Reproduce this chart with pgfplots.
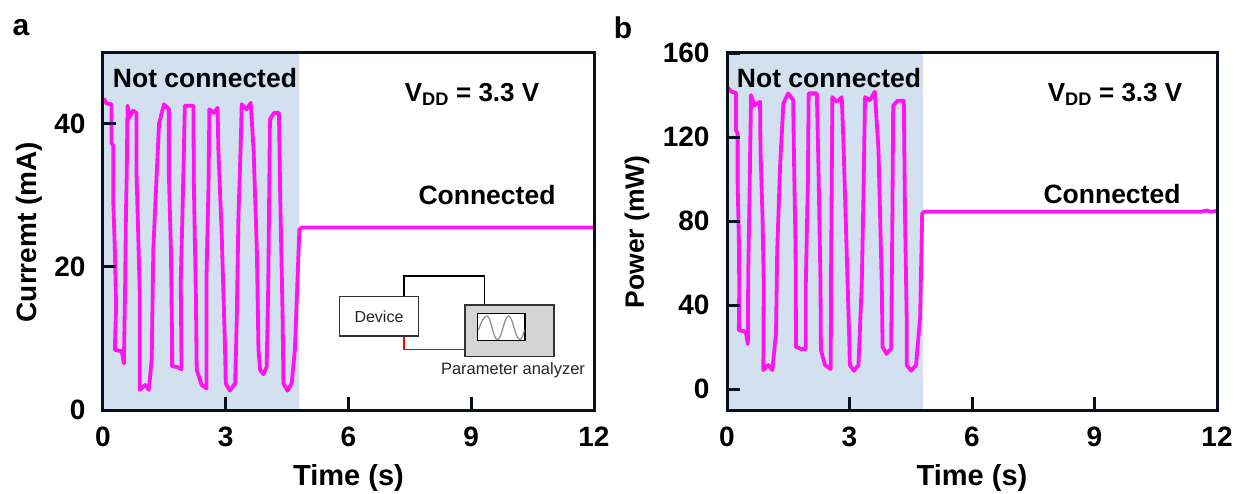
\documentclass[border=0pt]{standalone}
\usepackage{pgfplots}
\pgfplotsset{compat=1.18}
\usepackage{fontspec}
\setmainfont{Liberation Sans}
\definecolor{mag}{HTML}{FF14F0}
\definecolor{shade}{HTML}{D3E0F0}
\definecolor{axc}{HTML}{0A0F1E}
\pgfplotsset{
  panel/.style={
    scale only axis, width=491pt, height=358pt,
    xmin=0, xmax=12, xtick={0,3,6,9,12},
    axis on top, axis line style={line width=3pt, color=axc},
    tick style={line width=3pt, color=axc},
    major tick length=13pt, tick align=inside,
    xtick pos=bottom, ytick pos=left,
    /pgf/number format/assume math mode=true,
    ticklabel style={font=\fontsize{28}{28}\selectfont\bfseries},
    xticklabel style={yshift=-13pt},
    yticklabel style={xshift=-14pt},
    xlabel={Time (s)},
    every axis x label/.style={at={(axis description cs:0.5,0)},anchor=center,yshift=-68pt,font=\fontsize{29}{29}\selectfont\bfseries},
  },
  trace/.style={mag, line width=3.8pt, line join=round},
}
\begin{document}
\begin{tikzpicture}[x=1pt,y=-1pt]
\useasboundingbox (0,0) rectangle (1240,493);
\begin{axis}[panel, at={(103pt,-410pt)}, anchor=south west, ymin=0, ymax=50, ytick={0,20,40},
  ylabel={Curremt (mA)}, every axis y label/.style={at={(axis description cs:0,0.497)},rotate=90,anchor=center,yshift=74pt,font=\fontsize{28}{28}\selectfont\bfseries}]
\addplot[fill=shade, draw=none] coordinates {(0,0) (4.8,0) (4.8,50) (0,50)} \closedcycle;
\addplot[trace] coordinates {
(0.02,43.5)(0.09,42.8)(0.21,42.7)(0.21,37.3)(0.25,36.9)(0.25,29.4)(0.29,22.4)(0.32,14.5)(0.29,8.4)(0.46,8.2)
(0.51,6.5)(0.54,16.8)(0.56,27)(0.58,33)(0.6,42.5)(0.64,40.8)(0.73,41.8)(0.82,41.5)(0.82,33)(0.86,24.7)
(0.9,15.9)(0.9,2.8)(1.03,3.5)(1.12,2.8)(1.19,7)(1.23,22.4)(1.31,32.7)(1.37,40)(1.49,42.7)(1.61,42)
(1.61,33)(1.66,22.4)(1.69,8.9)(1.69,6.1)(1.82,6)(1.92,5.7)(1.9,17.7)(1.96,31.7)(2.0,42.5)(2.21,42.5)
(2.22,31.7)(2.27,15.9)(2.29,5.6)(2.41,3.5)(2.53,3)(2.53,18.7)(2.58,31.7)(2.6,42)(2.71,41.5)(2.8,42.2)
(2.82,36.4)(2.9,24.7)(2.98,9.3)(3.0,3.7)(3.1,2.7)(3.23,3.7)(3.27,13)(3.31,27)(3.37,37.8)(3.39,42.7)
(3.51,42)(3.61,42.9)(3.68,36.4)(3.76,22.4)(3.8,8.4)(3.84,5.6)(3.92,5)(4.0,6)(4.04,17.7)(4.08,40.6)
(4.18,41.5)(4.3,41.5)(4.33,30.3)(4.39,13)(4.41,3.7)(4.51,2.7)(4.61,3.7)(4.69,8.4)(4.75,17.7)(4.8,25.2)
(4.86,25.5)(6,25.5)(8,25.5)(10,25.5)(12,25.5)};
\end{axis}
\begin{axis}[panel, at={(727pt,-410pt)}, anchor=south west, width=490pt, ymin=-10, ymax=160.5, ytick={0,40,80,120,160},
  ylabel={Power (mW)}, every axis y label/.style={at={(axis description cs:0,0.498)},rotate=90,anchor=center,yshift=90pt,font=\fontsize{26.5}{26.5}\selectfont\bfseries}]
\addplot[fill=shade, draw=none] coordinates {(0,-10) (4.8,-10) (4.8,160.5) (0,160.5)} \closedcycle;
\addplot[trace] coordinates {
(0.02,143.5)(0.11,141.6)(0.22,141)(0.22,123.3)(0.26,121.7)(0.26,98)(0.29,72.5)(0.3,48.7)(0.29,28)(0.46,27.3)
(0.51,21.4)(0.52,55)(0.55,90)(0.57,117)(0.59,140)(0.67,135)(0.81,136.8)(0.82,113.8)(0.87,82)(0.9,50.3)
(0.89,9)(1.01,11.4)(1.11,9)(1.2,26.5)(1.23,66)(1.3,106)(1.38,136)(1.5,140.8)(1.62,137.6)(1.64,110.6)
(1.68,66)(1.69,20)(1.83,19)(1.93,19)(1.93,50)(1.98,98)(2.0,140.8)(2.2,140.8)(2.24,106)(2.29,50)
(2.3,18.6)(2.4,11.4)(2.54,9.5)(2.55,58)(2.58,139)(2.69,136.8)(2.81,139)(2.85,118.6)(2.93,66)(2.99,26.5)
(3.01,11.4)(3.11,8.7)(3.22,11.4)(3.3,50)(3.34,90)(3.38,139)(3.5,137.6)(3.62,141.6)(3.71,113.8)(3.79,50)
(3.81,20)(3.91,16.7)(4.02,19.4)(4.05,82)(4.07,135)(4.18,137.3)(4.33,137.3)(4.36,82)(4.4,34.4)(4.4,11.4)
(4.51,8.7)(4.63,11.4)(4.73,34.4)(4.78,83.6)(4.83,84.4)(6,84.4)(8,84.4)(10,84.4)(11.6,84.4)(11.75,85)(11.85,84.4)(12,84.8)};
\end{axis}
% panel letters and annotations
\node[font=\fontsize{30}{30}\selectfont\bfseries] at (21,28) {a};
\node[font=\fontsize{30}{30}\selectfont\bfseries] at (623,28) {b};
\foreach \dx in {0,624}{
  \node[font=\fontsize{26.5}{26.5}\selectfont\bfseries] at (205+\dx,78) {Not connected};
}
\node[font=\fontsize{26}{26}\selectfont\bfseries] at (472,94) {V\textsubscript{DD} = 3.3 V};
\node[font=\fontsize{26}{26}\selectfont\bfseries] at (1115,94) {V\textsubscript{DD} = 3.3 V};
\node[font=\fontsize{26.5}{26.5}\selectfont\bfseries] at (487,195) {Connected};
\node[font=\fontsize{26.5}{26.5}\selectfont\bfseries] at (1112,194) {Connected};
% inset schematic
\draw[black, line width=1.4pt] (404,297) -- (404,276) -- (484.5,276) -- (484.5,305);
\draw[red, line width=1.4pt] (404,336) -- (404,349.5) -- (465,349.5);
\draw[fill=white, draw=black!80, line width=1.2pt] (339.5,296.7) rectangle (418.5,336);
\node[font=\fontsize{16}{16}\selectfont, text=black!85] at (379,317) {Device};
\draw[fill=black!17, draw=black!80, line width=1.2pt] (465,305) rectangle (554,356.7);
\draw[fill=white, draw=black, line width=1.4pt] (477.7,313.3) rectangle (525,340.3);
\draw[black!45, line width=1.2pt] (478.5,330) .. controls (481,322) and (484,316) .. (487,316) .. controls (491,316) and (493,339.5) .. (497.5,339.5) .. controls (502,339.5) and (504,316) .. (508.5,316) .. controls (513,316) and (515,339.5) .. (520,339.5) .. controls (521.5,339.5) and (523,335) .. (524.5,330);
\node[font=\fontsize{16.5}{16.5}\selectfont, text=black!85] at (513,370) {Parameter analyzer};
\end{tikzpicture}
\end{document}
